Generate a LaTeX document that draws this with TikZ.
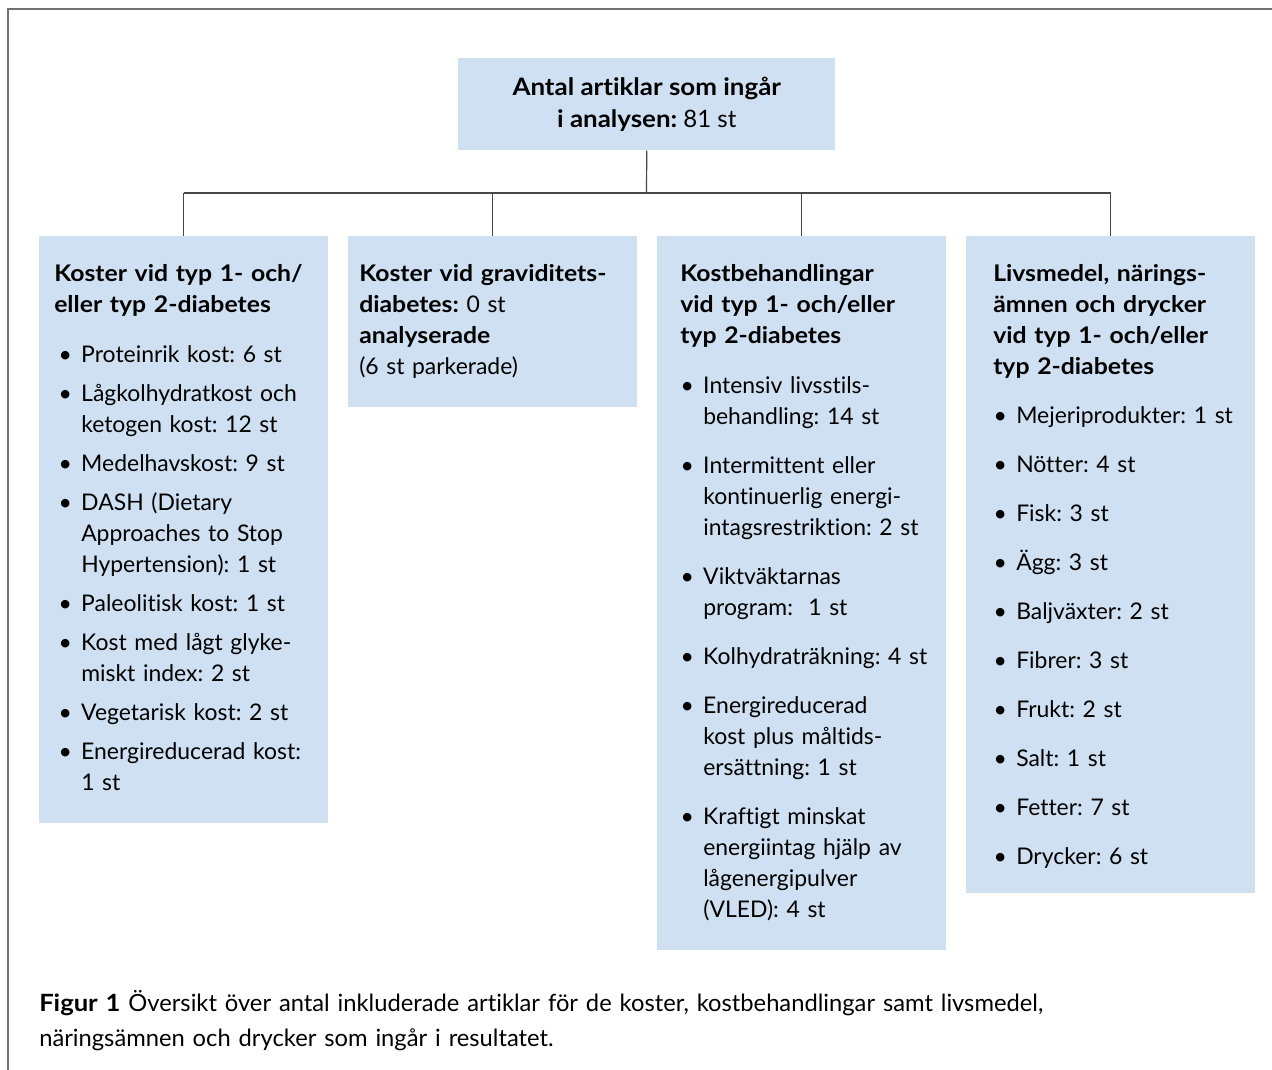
\documentclass[tikz,border=0pt]{standalone}
\usepackage{fontspec}
\setmainfont{Lato}[Ligatures=NoCommon, BoldFeatures={FakeStretch=1.08}]
\usetikzlibrary{positioning}

\definecolor{boxblue}{RGB}{207,224,243}
\definecolor{framegray}{RGB}{115,115,115}
\definecolor{linegray}{RGB}{70,70,70}

\frenchspacing
\newcommand\bodyfont{\fontsize{17.2}{23.25}\selectfont}
\newlength\itemgap
% one bullet item, the text hangs at \leftskip
\newcommand\pkt[1]{\par\noindent\llap{\textbullet\hspace{7pt}}#1\par\vspace{\itemgap}}

\begin{document}
\begin{tikzpicture}[x=0.75pt, y=-0.75pt,
    frame/.style={draw=framegray, line width=1.1pt},
    link/.style={draw=linegray, line width=0.9pt},
    catbox/.style={fill=boxblue, anchor=north west, inner sep=0pt, minimum width=216.75pt},
    cattext/.style={anchor=north west, inner sep=0pt, text width=#1, font=\bodyfont},
]
    % Size of the page
    \useasboundingbox (0,0) rectangle (1272,1070);

    % Frame, top and left edge only
    \draw[frame] (8,1070) -- (8,9) -- (1272,9);

    % Top box
    \node[catbox, minimum width=282.75pt, minimum height=69pt, align=center,
          font=\fontsize{18}{24}\selectfont] (total) at (458,58)
        {\textbf{Antal artiklar som ingår}\\\textbf{i analysen:} 81 st};

    % The four groups
    \node[catbox, minimum height=440.25pt] (koster) at (39,236) {};
    \node[catbox, minimum height=128.25pt] (grav) at (348,236) {};
    \node[catbox, minimum height=535.5pt] (behand) at (657,236) {};
    \node[catbox, minimum height=492.75pt] (livs) at (966,236) {};

    % Connectors
    \coordinate (bus) at (646.5,193);
    \draw[link] (total.south) -- (bus);
    \draw[link] (koster.north |- bus) -- (livs.north |- bus);
    \foreach \grp in {koster,grav,behand,livs}
        \draw[link] (\grp.north |- bus) -- (\grp.north);

    % Texts of the groups
    \node[cattext=275*0.75pt] (kostertext) at (54,260) {%
        \setlength\itemgap{6pt}%
        \strut\textbf{Koster vid typ 1- och/\\eller typ 2-diabetes}\par
        \vspace{14.25pt}\leftskip=20.25pt
        \pkt{Proteinrik kost: 6 st}
        \pkt{Lågkolhydratkost och\\ketogen kost: 12 st}
        \pkt{Medelhavskost: 9 st}
        \pkt{DASH (Dietary\\Approaches to Stop\\Hypertension): 1 st}
        \pkt{Paleolitisk kost: 1 st}
        \pkt{Kost med lågt glyke-\\miskt index: 2 st}
        \pkt{Vegetarisk kost: 2 st}
        \pkt{Energireducerad kost:\\1 st}};

    \node[cattext=275*0.75pt] (gravtext) at (359,260) {%
        \strut\textbf{Koster vid graviditets-}\\\textbf{diabetes:} 0 st\\
        \textbf{analyserade}\\(6 st parkerade)};

    \node[cattext=270*0.75pt] (behandtext) at (680,260) {%
        \setlength\itemgap{13.5pt}%
        \strut\textbf{Kostbehandlingar\\vid typ 1- och/eller\\typ 2-diabetes}\par
        \vspace{14.25pt}\leftskip=17.25pt
        \pkt{Intensiv livsstils-\\behandling: 14 st}
        \pkt{Intermittent eller\\kontinuerlig energi-\\intagsrestriktion: 2 st}
        \pkt{Viktväktarnas\\program:\ \ 1 st}
        \pkt{Kolhydraträkning: 4 st}
        \pkt{Energireducerad\\kost plus måltids-\\ersättning: 1 st}
        \pkt{Kraftigt minskat\\energiintag hjälp av\\lågenergipulver\\(VLED): 4 st}};

    \node[cattext=270*0.75pt] (livstext) at (993,260) {%
        \setlength\itemgap{13.5pt}%
        \strut\textbf{Livsmedel, närings-\\ämnen och drycker\\vid typ 1- och/eller\\typ 2-diabetes}\par
        \vspace{13.5pt}\leftskip=17.25pt
        \pkt{Mejeriprodukter: 1 st}
        \pkt{Nötter: 4 st}
        \pkt{Fisk: 3 st}
        \pkt{Ägg: 3 st}
        \pkt{Baljväxter: 2 st}
        \pkt{Fibrer: 3 st}
        \pkt{Frukt: 2 st}
        \pkt{Salt: 1 st}
        \pkt{Fetter: 7 st}
        \pkt{Drycker: 6 st}};

    % Caption
    \node[cattext=1220*0.75pt, font=\fontsize{17.8}{26.25}\selectfont] (caption) at (39,987) {%
        \strut\textbf{Figur 1} Översikt över antal inkluderade artiklar för de koster, kostbehandlingar samt livsmedel,\\
        näringsämnen och drycker som ingår i resultatet.};
\end{tikzpicture}
\end{document}
